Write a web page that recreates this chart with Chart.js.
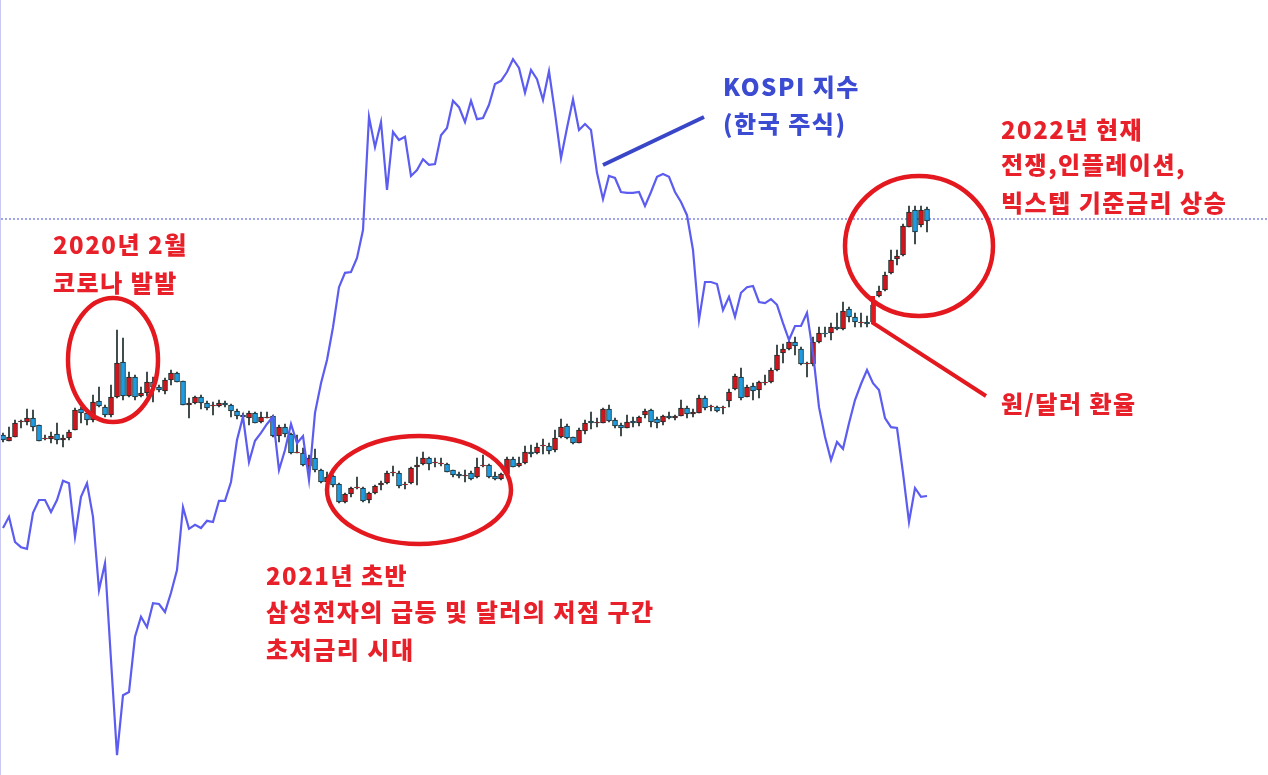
<!DOCTYPE html>
<html><head><meta charset="utf-8">
<script src="https://cdn.jsdelivr.net/npm/chart.js@4"></script>
<style>
html,body{margin:0;padding:0;background:#fff;}
#wrap{position:relative;width:1268px;height:775px;overflow:hidden;border-left:1px solid #c9c9f2;box-sizing:border-box;}
#c{position:absolute;left:0;top:0;}
.t{position:absolute;font-family:"Noto Sans CJK KR","Noto Sans",sans-serif;font-weight:900;font-size:24px;letter-spacing:1.5px;line-height:1;white-space:nowrap;}
.r{color:#e8202a}.b{color:#3b4bd2}
</style></head><body>
<div id="wrap"><canvas id="c" width="1268" height="775"></canvas>
<div class="t r" style="left:52px;top:232px">2020년 2월</div>
<div class="t r" style="left:52px;top:270px">코로나 발발</div>
<div class="t r" style="left:265px;top:563px">2021년 초반</div>
<div class="t r" style="left:265px;top:599px">삼성전자의 급등 및 달러의 저점 구간</div>
<div class="t r" style="left:265px;top:637px">초저금리 시대</div>
<div class="t b" style="left:722px;top:74px">KOSPI 지수</div>
<div class="t b" style="left:722px;top:111px">(한국 주식)</div>
<div class="t r" style="left:1000px;top:117px">2022년 현재</div>
<div class="t r" style="left:1000px;top:152px">전쟁,인플레이션,</div>
<div class="t r" style="left:1000px;top:190px">빅스텝 기준금리 상승</div>
<div class="t r" style="left:1000px;top:391px">원/달러 환율</div>
</div>
<script>
const openP=[1065,1059,1063,1078,1078,1082,1075,1061,1061,1066,1060,1062,1070,1091,1087,1080,1099,1093,1085,1103,1138,1104,1123,1104,1107,1118,1113,1109,1120,1127,1119,1095,1097,1103,1097,1094,1094,1097,1095,1089,1085,1082,1087,1078,1082,1084,1064,1073,1066,1047,1047,1034,1042,1030,1018,1024,1016,998,1006,1012,1012,1000,1007,1015,1017,1027,1027,1015,1017,1033,1036,1042,1037,1036,1036,1030,1026,1024,1027,1023,1034,1035,1024,1021,1026,1041,1034,1037,1048,1047,1054,1054,1050,1063,1074,1063,1057,1069,1079,1077,1077,1091,1080,1075,1072,1079,1077,1085,1090,1081,1078,1084,1082,1084,1092,1086,1087,1102,1093,1093,1092,1099,1111,1123,1103,1114,1110,1117,1118,1130,1147,1151,1158,1151,1136,1136,1158,1167,1167,1173,1171,1191,1183,1177,1178,1178,1204,1210,1227,1241,1245,1273,1290,1275,1291];
const highP=[1067,1073,1080,1080,1091,1090,1075,1065,1068,1077,1065,1070,1092,1093,1090,1105,1113,1095,1115,1170,1162,1128,1125,1113,1128,1123,1115,1122,1130,1128,1119,1102,1104,1105,1099,1098,1100,1099,1096,1091,1087,1089,1088,1088,1088,1085,1075,1076,1067,1065,1052,1045,1051,1031,1028,1025,1017,1007,1013,1023,1013,1008,1015,1019,1029,1034,1029,1018,1033,1043,1048,1043,1042,1042,1037,1030,1028,1030,1029,1042,1045,1036,1028,1027,1043,1043,1043,1054,1055,1057,1061,1057,1070,1081,1076,1063,1072,1080,1088,1082,1092,1095,1082,1077,1085,1083,1084,1091,1091,1083,1085,1088,1085,1100,1094,1091,1105,1104,1095,1094,1094,1111,1126,1132,1115,1117,1119,1125,1132,1155,1156,1163,1163,1153,1138,1163,1173,1173,1177,1187,1198,1193,1187,1187,1184,1197,1214,1228,1250,1250,1276,1294,1294,1294,1293];
const lowP=[1058,1059,1063,1072,1075,1069,1059,1060,1057,1056,1053,1060,1070,1077,1075,1078,1093,1083,1083,1102,1100,1103,1100,1103,1104,1098,1108,1106,1115,1118,1095,1082,1096,1091,1090,1085,1093,1093,1083,1081,1081,1075,1077,1077,1082,1063,1058,1063,1046,1047,1034,1030,1028,1017,1017,1013,997,997,1003,1011,998,997,1006,1010,1016,1024,1012,1011,1016,1015,1035,1030,1033,1034,1028,1023,1022,1018,1020,1022,1033,1022,1020,1020,1025,1033,1033,1036,1043,1046,1046,1046,1048,1062,1061,1056,1057,1066,1071,1073,1077,1078,1072,1064,1072,1073,1074,1082,1073,1072,1075,1081,1080,1084,1082,1083,1087,1090,1089,1088,1086,1093,1110,1100,1103,1100,1102,1115,1117,1129,1137,1150,1145,1135,1123,1134,1157,1163,1160,1170,1170,1178,1173,1173,1173,1176,1203,1209,1226,1235,1244,1273,1256,1273,1268];
const closeP=[1060,1063,1077,1079,1082,1073,1059,1061,1064,1060,1062,1068,1090,1087,1080,1098,1094,1085,1103,1137,1104,1123,1103,1107,1118,1113,1110,1120,1127,1118,1095,1097,1103,1097,1092,1094,1097,1095,1089,1084,1083,1087,1077,1083,1083,1064,1073,1066,1047,1047,1035,1042,1030,1018,1023,1015,998,1006,1012,1012,999,1007,1014,1017,1027,1027,1014,1015,1032,1035,1042,1036,1037,1036,1028,1025,1024,1025,1021,1033,1034,1023,1021,1026,1041,1033,1037,1048,1046,1053,1054,1049,1062,1073,1062,1057,1070,1077,1077,1078,1091,1079,1074,1072,1078,1077,1083,1089,1078,1077,1084,1082,1084,1092,1086,1088,1102,1092,1093,1089,1092,1108,1124,1102,1113,1109,1118,1117,1130,1145,1151,1158,1154,1136,1136,1158,1167,1166,1173,1171,1189,1183,1178,1177,1176,1195,1209,1225,1240,1244,1274,1288,1268,1290,1279];
const kospi=[2180,2208,2145,2132,2128,2218,2250,2250,2220,2250,2298,2292,2158,2258,2292,2208,2025,2092,1850,1612,1762,1770,1908,1958,1932,1992,1990,1970,2018,2075,2232,2178,2188,2180,2198,2195,2248,2248,2295,2400,2458,2345,2398,2418,2440,2458,2325,2375,2440,2392,2410,2300,2468,2542,2600,2682,2782,2818,2820,2855,2925,3208,3132,3195,3025,3170,3150,3158,3060,3075,3102,3088,3090,3162,3180,3248,3232,3195,3248,3202,3205,3238,3290,3298,3320,3352,3330,3268,3325,3302,3250,3322,3218,3105,3180,3252,3175,3190,3175,3068,3002,3060,3055,3020,3018,3018,3020,2985,3020,3058,3065,3058,3020,2995,2962,2875,2700,2795,2795,2790,2725,2758,2708,2768,2782,2785,2745,2742,2752,2738,2692,2650,2685,2685,2718,2618,2482,2408,2350,2395,2378,2442,2500,2540,2575,2542,2525,2455,2432,2430,2318,2195,2280,2258,2260];
const currentRate=1281;

const n=closeP.length;
const UP='#d3141c',DN='#1d9be3',EDGE='#1b2a2a';
const wick=[],body=[],colors=[],kline=[];
for(let i=0;i<n;i++){
  wick.push({x:i,y:[lowP[i],highP[i]]});
  const o=openP[i],c=closeP[i];
  body.push({x:i,y:[o,c===o?c+0.8:c]});
  colors.push(c>=o?UP:DN);
  kline.push({x:i,y:kospi[i]});
}
const deco={id:'deco',afterDatasetsDraw(ch){
  const g=ch.ctx;g.save();
  g.strokeStyle='#e3191f';g.lineWidth=4.5;
  [[112,360,45,62],[418,490,92,54],[918,246,74,70]].forEach(e=>{g.beginPath();g.ellipse(e[0],e[1],e[2],e[3],0,0,Math.PI*2);g.stroke();});
  g.lineWidth=4;g.beginPath();g.moveTo(872,296);g.lineTo(872,323);g.lineTo(985,396);g.stroke();
  g.strokeStyle='#3a46c8';g.lineWidth=4;g.beginPath();g.moveTo(602,165);g.lineTo(703,117);g.stroke();
  g.restore();}};
new Chart(document.getElementById('c'),{
  data:{datasets:[
    {type:'line',data:[{x:-1,y:currentRate},{x:215,y:currentRate}],borderColor:'#3f4ad0',borderWidth:1,borderDash:[2,2],pointRadius:0,yAxisID:'y',order:3},
    {type:'bar',data:wick,backgroundColor:EDGE,barThickness:1,grouped:false,yAxisID:'y',order:2},
    {type:'bar',data:body,backgroundColor:colors,borderColor:EDGE,borderWidth:1,borderSkipped:false,barThickness:5,grouped:false,yAxisID:'y',order:1},
    {type:'line',data:kline,borderColor:'#5c5cf0',borderWidth:2.2,pointRadius:0,tension:0,yAxisID:'y2',order:0}
  ]},
  options:{responsive:false,animation:false,layout:{padding:0},
    plugins:{legend:{display:false},tooltip:{enabled:false}},
    scales:{
      x:{type:'linear',min:-0.333,max:211,offset:false,display:false,bounds:'ticks'},
      y:{min:725,max:1500,display:false},
      y2:{min:1562.5,max:3500,display:false}
    }},
  plugins:[deco]
});
</script></body></html>
